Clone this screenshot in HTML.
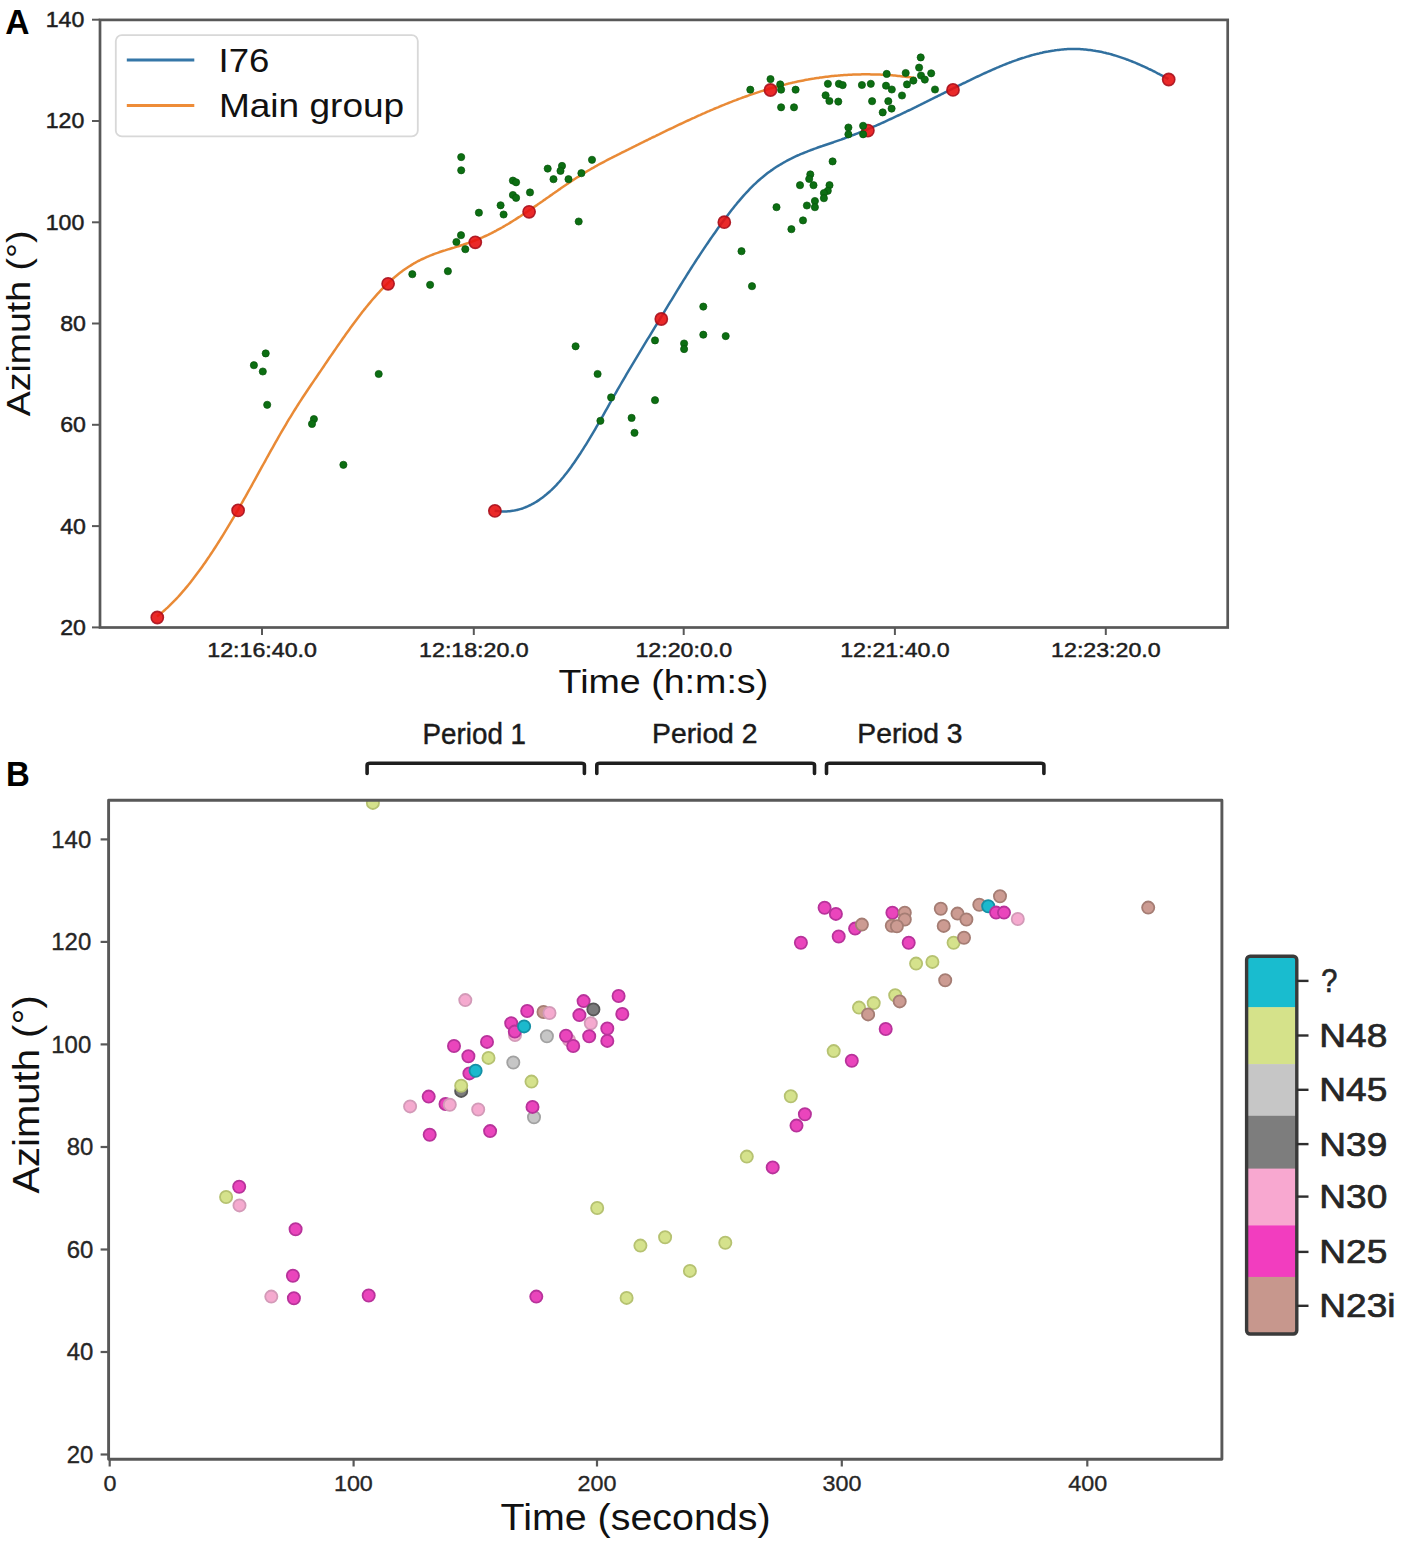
<!DOCTYPE html><html><head><meta charset="utf-8"><style>html,body{margin:0;padding:0;background:#fff;}svg{display:block;}text{font-family:"Liberation Sans",sans-serif;}</style></head><body>
<svg width="1417" height="1551" viewBox="0 0 1417 1551">
<rect width="1417" height="1551" fill="#fff"/>
<defs><clipPath id="ca"><rect x="99.7" y="19.7" width="1128" height="607.7"/></clipPath><clipPath id="cb"><rect x="108.6" y="800" width="1113.2" height="659.2"/></clipPath></defs>
<text x="5.26" y="34.00" font-size="34.91" font-weight="bold" fill="#000" textLength="24.25" lengthAdjust="spacingAndGlyphs">A</text>
<g clip-path="url(#ca)">
<path d="M157.0,616.4 L158.5,615.3 L160.0,614.1 L161.5,612.9 L163.0,611.6 L164.5,610.3 L166.0,608.9 L167.5,607.6 L169.0,606.2 L170.5,604.7 L172.0,603.2 L173.5,601.7 L175.0,600.2 L176.5,598.6 L178.0,597.0 L179.5,595.3 L181.0,593.6 L182.5,591.9 L184.0,590.2 L185.5,588.4 L187.0,586.6 L188.5,584.8 L190.0,582.9 L191.5,581.0 L193.0,579.1 L194.5,577.1 L196.0,575.1 L197.5,573.1 L199.0,571.1 L200.5,569.0 L202.0,566.9 L203.5,564.8 L205.0,562.7 L206.5,560.5 L208.0,558.3 L209.5,556.1 L211.0,553.8 L212.5,551.6 L214.0,549.3 L215.5,547.0 L217.0,544.6 L218.5,542.3 L220.0,539.9 L221.5,537.5 L223.0,535.1 L224.5,532.6 L226.0,530.2 L227.5,527.7 L229.0,525.2 L230.5,522.7 L232.0,520.1 L233.5,517.6 L235.0,515.0 L236.5,512.4 L238.0,509.8 L239.5,507.2 L241.0,504.5 L242.5,501.9 L244.0,499.2 L245.5,496.6 L247.0,493.9 L248.5,491.2 L250.0,488.5 L251.5,485.8 L253.0,483.0 L254.5,480.3 L256.0,477.6 L257.5,474.9 L259.0,472.1 L260.5,469.4 L262.0,466.7 L263.5,464.0 L265.0,461.3 L266.5,458.5 L268.0,455.8 L269.5,453.1 L271.0,450.4 L272.5,447.8 L274.0,445.1 L275.5,442.4 L277.0,439.8 L278.5,437.2 L280.0,434.5 L281.5,431.9 L283.0,429.4 L284.5,426.8 L286.0,424.3 L287.5,421.7 L289.0,419.2 L290.5,416.8 L292.0,414.3 L293.5,411.9 L295.0,409.5 L296.5,407.1 L298.0,404.8 L299.5,402.4 L301.0,400.1 L302.5,397.8 L304.0,395.5 L305.5,393.3 L307.0,391.0 L308.5,388.8 L310.0,386.5 L311.5,384.3 L313.0,382.1 L314.5,379.9 L316.0,377.7 L317.5,375.5 L319.0,373.3 L320.5,371.1 L322.0,368.9 L323.5,366.7 L325.0,364.4 L326.5,362.2 L328.0,360.0 L329.5,357.8 L331.0,355.6 L332.5,353.5 L334.0,351.3 L335.5,349.1 L337.0,346.9 L338.5,344.8 L340.0,342.6 L341.5,340.5 L343.0,338.3 L344.5,336.2 L346.0,334.1 L347.5,332.0 L349.0,329.9 L350.5,327.8 L352.0,325.8 L353.5,323.7 L355.0,321.7 L356.5,319.7 L358.0,317.7 L359.5,315.7 L361.0,313.8 L362.5,311.8 L364.0,309.9 L365.5,308.1 L367.0,306.2 L368.5,304.4 L370.0,302.6 L371.5,300.8 L373.0,299.0 L374.5,297.3 L376.0,295.6 L377.5,293.9 L379.0,292.3 L380.5,290.7 L382.0,289.1 L383.5,287.5 L385.0,286.0 L386.5,284.6 L388.0,283.1 L389.5,281.7 L391.0,280.3 L392.5,279.0 L394.0,277.7 L395.5,276.4 L397.0,275.2 L398.5,274.0 L400.0,272.8 L401.5,271.7 L403.0,270.6 L404.5,269.5 L406.0,268.5 L407.5,267.5 L409.0,266.5 L410.5,265.6 L412.0,264.6 L413.5,263.7 L415.0,262.9 L416.5,262.0 L418.0,261.2 L419.5,260.5 L421.0,259.7 L422.5,259.0 L424.0,258.3 L425.5,257.6 L427.0,256.9 L428.5,256.3 L430.0,255.7 L431.5,255.1 L433.0,254.5 L434.5,253.9 L436.0,253.4 L437.5,252.9 L439.0,252.3 L440.5,251.8 L442.0,251.3 L443.5,250.8 L445.0,250.4 L446.5,249.9 L448.0,249.4 L449.5,249.0 L451.0,248.5 L452.5,248.0 L454.0,247.6 L455.5,247.1 L457.0,246.6 L458.5,246.2 L460.0,245.7 L461.5,245.2 L463.0,244.8 L464.5,244.3 L466.0,243.8 L467.5,243.3 L469.0,242.7 L470.5,242.2 L472.0,241.7 L473.5,241.1 L475.0,240.5 L476.5,239.9 L478.0,239.3 L479.5,238.7 L481.0,238.0 L482.5,237.4 L484.0,236.7 L485.5,236.0 L487.0,235.3 L488.5,234.6 L490.0,233.8 L491.5,233.1 L493.0,232.3 L494.5,231.5 L496.0,230.8 L497.5,229.9 L499.0,229.1 L500.5,228.3 L502.0,227.5 L503.5,226.6 L505.0,225.7 L506.5,224.8 L508.0,224.0 L509.5,223.1 L511.0,222.1 L512.5,221.2 L514.0,220.3 L515.5,219.4 L517.0,218.4 L518.5,217.4 L520.0,216.5 L521.5,215.5 L523.0,214.5 L524.5,213.5 L526.0,212.5 L527.5,211.5 L529.0,210.5 L530.5,209.5 L532.0,208.5 L533.5,207.4 L535.0,206.4 L536.5,205.4 L538.0,204.3 L539.5,203.3 L541.0,202.2 L542.5,201.2 L544.0,200.1 L545.5,199.1 L547.0,198.0 L548.5,197.0 L550.0,195.9 L551.5,194.9 L553.0,193.8 L554.5,192.8 L556.0,191.7 L557.5,190.7 L559.0,189.6 L560.5,188.6 L562.0,187.5 L563.5,186.5 L565.0,185.5 L566.5,184.5 L568.0,183.5 L569.5,182.4 L571.0,181.4 L572.5,180.5 L574.0,179.5 L575.5,178.5 L577.0,177.5 L578.5,176.6 L580.0,175.6 L581.5,174.7 L583.0,173.8 L584.5,172.8 L586.0,171.9 L587.5,171.0 L589.0,170.2 L590.5,169.3 L592.0,168.4 L593.5,167.6 L595.0,166.7 L596.5,165.9 L598.0,165.0 L599.5,164.2 L601.0,163.4 L602.5,162.6 L604.0,161.8 L605.5,161.0 L607.0,160.2 L608.5,159.4 L610.0,158.6 L611.5,157.9 L613.0,157.1 L614.5,156.3 L616.0,155.6 L617.5,154.8 L619.0,154.1 L620.5,153.3 L622.0,152.5 L623.5,151.8 L625.0,151.1 L626.5,150.3 L628.0,149.6 L629.5,148.8 L631.0,148.1 L632.5,147.3 L634.0,146.6 L635.5,145.9 L637.0,145.1 L638.5,144.4 L640.0,143.6 L641.5,142.9 L643.0,142.2 L644.5,141.4 L646.0,140.7 L647.5,140.0 L649.0,139.2 L650.5,138.5 L652.0,137.7 L653.5,137.0 L655.0,136.3 L656.5,135.5 L658.0,134.8 L659.5,134.1 L661.0,133.3 L662.5,132.6 L664.0,131.9 L665.5,131.2 L667.0,130.4 L668.5,129.7 L670.0,129.0 L671.5,128.3 L673.0,127.6 L674.5,126.8 L676.0,126.1 L677.5,125.4 L679.0,124.7 L680.5,124.0 L682.0,123.3 L683.5,122.6 L685.0,121.9 L686.5,121.2 L688.0,120.5 L689.5,119.8 L691.0,119.1 L692.5,118.4 L694.0,117.8 L695.5,117.1 L697.0,116.4 L698.5,115.7 L700.0,115.1 L701.5,114.4 L703.0,113.7 L704.5,113.1 L706.0,112.4 L707.5,111.7 L709.0,111.1 L710.5,110.4 L712.0,109.8 L713.5,109.2 L715.0,108.5 L716.5,107.9 L718.0,107.3 L719.5,106.6 L721.0,106.0 L722.5,105.4 L724.0,104.8 L725.5,104.2 L727.0,103.6 L728.5,103.0 L730.0,102.4 L731.5,101.8 L733.0,101.2 L734.5,100.6 L736.0,100.1 L737.5,99.5 L739.0,98.9 L740.5,98.4 L742.0,97.8 L743.5,97.3 L745.0,96.7 L746.5,96.2 L748.0,95.7 L749.5,95.1 L751.0,94.6 L752.5,94.1 L754.0,93.6 L755.5,93.1 L757.0,92.6 L758.5,92.1 L760.0,91.6 L761.5,91.1 L763.0,90.7 L764.5,90.2 L766.0,89.7 L767.5,89.3 L769.0,88.8 L770.5,88.4 L772.0,88.0 L773.5,87.5 L775.0,87.1 L776.5,86.7 L778.0,86.3 L779.5,85.9 L781.0,85.5 L782.5,85.1 L784.0,84.7 L785.5,84.4 L787.0,84.0 L788.5,83.6 L790.0,83.3 L791.5,82.9 L793.0,82.6 L794.5,82.3 L796.0,81.9 L797.5,81.6 L799.0,81.3 L800.5,81.0 L802.0,80.7 L803.5,80.4 L805.0,80.1 L806.5,79.8 L808.0,79.6 L809.5,79.3 L811.0,79.0 L812.5,78.8 L814.0,78.6 L815.5,78.3 L817.0,78.1 L818.5,77.9 L820.0,77.6 L821.5,77.4 L823.0,77.2 L824.5,77.0 L826.0,76.8 L827.5,76.7 L829.0,76.5 L830.5,76.3 L832.0,76.1 L833.5,76.0 L835.0,75.8 L836.5,75.7 L838.0,75.6 L839.5,75.4 L841.0,75.3 L842.5,75.2 L844.0,75.1 L845.5,75.0 L847.0,74.9 L848.5,74.8 L850.0,74.7 L851.5,74.7 L853.0,74.6 L854.5,74.5 L856.0,74.5 L857.5,74.4 L859.0,74.4 L860.5,74.4 L862.0,74.3 L863.5,74.3 L865.0,74.3 L866.5,74.3 L868.0,74.3 L869.5,74.3 L871.0,74.4 L872.5,74.4 L874.0,74.4 L875.5,74.4 L877.0,74.5 L878.5,74.5 L880.0,74.6 L881.5,74.7 L883.0,74.7 L884.5,74.8 L886.0,74.9 L887.5,75.0 L889.0,75.1 L890.5,75.2 L892.0,75.3 L893.5,75.5 L895.0,75.6 L896.5,75.7 L898.0,75.9 L899.5,76.0 L901.0,76.2 L902.5,76.4 L904.0,76.5 L905.5,76.7 L907.0,76.9 L908.5,77.1 L910.0,77.3 L911.5,77.5 L913.0,77.7 L914.5,77.9 L915.8,78.1" fill="none" stroke="#e98a36" stroke-width="2.5" stroke-linejoin="round"/>
<path d="M494.6,510.7 L496.1,510.9 L497.6,511.1 L499.1,511.3 L500.6,511.4 L502.1,511.4 L503.6,511.5 L505.1,511.5 L506.6,511.4 L508.1,511.3 L509.6,511.2 L511.1,511.0 L512.6,510.8 L514.1,510.6 L515.6,510.3 L517.1,509.9 L518.6,509.6 L520.1,509.1 L521.6,508.7 L523.1,508.2 L524.6,507.6 L526.1,507.0 L527.6,506.4 L529.1,505.7 L530.6,505.0 L532.1,504.2 L533.6,503.4 L535.1,502.5 L536.6,501.6 L538.1,500.6 L539.6,499.6 L541.1,498.5 L542.6,497.4 L544.1,496.3 L545.6,495.1 L547.1,493.8 L548.6,492.5 L550.1,491.2 L551.6,489.8 L553.1,488.3 L554.6,486.8 L556.1,485.3 L557.6,483.6 L559.1,482.0 L560.6,480.3 L562.1,478.5 L563.6,476.7 L565.1,474.8 L566.6,472.9 L568.1,471.0 L569.6,468.9 L571.1,466.9 L572.6,464.8 L574.1,462.7 L575.6,460.5 L577.1,458.3 L578.6,456.0 L580.1,453.8 L581.6,451.4 L583.1,449.1 L584.6,446.7 L586.1,444.3 L587.6,441.9 L589.1,439.4 L590.6,436.9 L592.1,434.4 L593.6,431.9 L595.1,429.3 L596.6,426.7 L598.1,424.1 L599.6,421.5 L601.1,418.9 L602.6,416.3 L604.1,413.6 L605.6,410.9 L607.1,408.3 L608.6,405.6 L610.1,402.9 L611.6,400.3 L613.1,397.6 L614.6,395.0 L616.1,392.3 L617.6,389.7 L619.1,387.1 L620.6,384.5 L622.1,381.9 L623.6,379.3 L625.1,376.8 L626.6,374.2 L628.1,371.7 L629.6,369.1 L631.1,366.6 L632.6,364.1 L634.1,361.6 L635.6,359.1 L637.1,356.6 L638.6,354.1 L640.1,351.6 L641.6,349.1 L643.1,346.6 L644.6,344.2 L646.1,341.7 L647.6,339.2 L649.1,336.8 L650.6,334.3 L652.1,331.9 L653.6,329.4 L655.1,326.9 L656.6,324.5 L658.1,322.0 L659.6,319.6 L661.1,317.1 L662.6,314.6 L664.1,312.1 L665.6,309.7 L667.1,307.2 L668.6,304.7 L670.1,302.2 L671.6,299.8 L673.1,297.3 L674.6,294.8 L676.1,292.4 L677.6,289.9 L679.1,287.5 L680.6,285.0 L682.1,282.6 L683.6,280.2 L685.1,277.8 L686.6,275.4 L688.1,273.0 L689.6,270.6 L691.1,268.3 L692.6,265.9 L694.1,263.6 L695.6,261.3 L697.1,258.9 L698.6,256.7 L700.1,254.4 L701.6,252.1 L703.1,249.9 L704.6,247.6 L706.1,245.4 L707.6,243.2 L709.1,241.0 L710.6,238.8 L712.1,236.6 L713.6,234.5 L715.1,232.4 L716.6,230.2 L718.1,228.1 L719.6,226.1 L721.1,224.0 L722.6,221.9 L724.1,219.9 L725.6,217.9 L727.1,215.9 L728.6,213.9 L730.1,212.0 L731.6,210.1 L733.1,208.2 L734.6,206.3 L736.1,204.5 L737.6,202.6 L739.1,200.9 L740.6,199.1 L742.1,197.4 L743.6,195.7 L745.1,194.0 L746.6,192.4 L748.1,190.8 L749.6,189.2 L751.1,187.7 L752.6,186.2 L754.1,184.7 L755.6,183.3 L757.1,181.9 L758.6,180.5 L760.1,179.2 L761.6,177.9 L763.1,176.7 L764.6,175.5 L766.1,174.3 L767.6,173.1 L769.1,172.0 L770.6,170.9 L772.1,169.9 L773.6,168.8 L775.1,167.8 L776.6,166.8 L778.1,165.9 L779.6,165.0 L781.1,164.1 L782.6,163.2 L784.1,162.3 L785.6,161.5 L787.1,160.7 L788.6,159.9 L790.1,159.1 L791.6,158.4 L793.1,157.6 L794.6,156.9 L796.1,156.2 L797.6,155.5 L799.1,154.9 L800.6,154.2 L802.1,153.6 L803.6,153.0 L805.1,152.4 L806.6,151.8 L808.1,151.2 L809.6,150.6 L811.1,150.0 L812.6,149.5 L814.1,148.9 L815.6,148.4 L817.1,147.8 L818.6,147.3 L820.1,146.8 L821.6,146.3 L823.1,145.7 L824.6,145.2 L826.1,144.7 L827.6,144.2 L829.1,143.7 L830.6,143.2 L832.1,142.7 L833.6,142.2 L835.1,141.6 L836.6,141.1 L838.1,140.6 L839.6,140.1 L841.1,139.6 L842.6,139.0 L844.1,138.5 L845.6,137.9 L847.1,137.4 L848.6,136.8 L850.1,136.2 L851.6,135.7 L853.1,135.1 L854.6,134.5 L856.1,133.9 L857.6,133.3 L859.1,132.7 L860.6,132.1 L862.1,131.5 L863.6,130.9 L865.1,130.3 L866.6,129.6 L868.1,129.0 L869.6,128.4 L871.1,127.7 L872.6,127.1 L874.1,126.4 L875.6,125.8 L877.1,125.1 L878.6,124.5 L880.1,123.8 L881.6,123.1 L883.1,122.5 L884.6,121.8 L886.1,121.1 L887.6,120.4 L889.1,119.7 L890.6,119.0 L892.1,118.3 L893.6,117.6 L895.1,116.9 L896.6,116.2 L898.1,115.5 L899.6,114.8 L901.1,114.1 L902.6,113.4 L904.1,112.7 L905.6,112.0 L907.1,111.2 L908.6,110.5 L910.1,109.8 L911.6,109.1 L913.1,108.3 L914.6,107.6 L916.1,106.9 L917.6,106.1 L919.1,105.4 L920.6,104.7 L922.1,103.9 L923.6,103.2 L925.1,102.4 L926.6,101.7 L928.1,100.9 L929.6,100.2 L931.1,99.4 L932.6,98.7 L934.1,97.9 L935.6,97.2 L937.1,96.5 L938.6,95.7 L940.1,95.0 L941.6,94.2 L943.1,93.5 L944.6,92.7 L946.1,92.0 L947.6,91.2 L949.1,90.5 L950.6,89.7 L952.1,89.0 L953.6,88.2 L955.1,87.5 L956.6,86.7 L958.1,86.0 L959.6,85.2 L961.1,84.5 L962.6,83.7 L964.1,83.0 L965.6,82.3 L967.1,81.5 L968.6,80.8 L970.1,80.1 L971.6,79.3 L973.1,78.6 L974.6,77.9 L976.1,77.2 L977.6,76.5 L979.1,75.8 L980.6,75.1 L982.1,74.4 L983.6,73.7 L985.1,73.0 L986.6,72.3 L988.1,71.6 L989.6,71.0 L991.1,70.3 L992.6,69.6 L994.1,69.0 L995.6,68.3 L997.1,67.7 L998.6,67.1 L1000.1,66.4 L1001.6,65.8 L1003.1,65.2 L1004.6,64.6 L1006.1,64.0 L1007.6,63.4 L1009.1,62.8 L1010.6,62.3 L1012.1,61.7 L1013.6,61.1 L1015.1,60.6 L1016.6,60.1 L1018.1,59.5 L1019.6,59.0 L1021.1,58.5 L1022.6,58.0 L1024.1,57.6 L1025.6,57.1 L1027.1,56.6 L1028.6,56.2 L1030.1,55.7 L1031.6,55.3 L1033.1,54.9 L1034.6,54.5 L1036.1,54.1 L1037.6,53.7 L1039.1,53.4 L1040.6,53.0 L1042.1,52.7 L1043.6,52.3 L1045.1,52.0 L1046.6,51.7 L1048.1,51.5 L1049.6,51.2 L1051.1,50.9 L1052.6,50.7 L1054.1,50.5 L1055.6,50.2 L1057.1,50.1 L1058.6,49.9 L1060.1,49.7 L1061.6,49.6 L1063.1,49.4 L1064.6,49.3 L1066.1,49.2 L1067.6,49.1 L1069.1,49.1 L1070.6,49.0 L1072.1,49.0 L1073.6,49.0 L1075.1,49.0 L1076.6,49.0 L1078.1,49.1 L1079.6,49.1 L1081.1,49.2 L1082.6,49.3 L1084.1,49.4 L1085.6,49.5 L1087.1,49.7 L1088.6,49.9 L1090.1,50.0 L1091.6,50.2 L1093.1,50.5 L1094.6,50.7 L1096.1,51.0 L1097.6,51.2 L1099.1,51.5 L1100.6,51.8 L1102.1,52.1 L1103.6,52.5 L1105.1,52.8 L1106.6,53.2 L1108.1,53.5 L1109.6,53.9 L1111.1,54.3 L1112.6,54.8 L1114.1,55.2 L1115.6,55.6 L1117.1,56.1 L1118.6,56.6 L1120.1,57.1 L1121.6,57.6 L1123.1,58.1 L1124.6,58.6 L1126.1,59.2 L1127.6,59.7 L1129.1,60.3 L1130.6,60.9 L1132.1,61.5 L1133.6,62.1 L1135.1,62.7 L1136.6,63.3 L1138.1,64.0 L1139.6,64.6 L1141.1,65.3 L1142.6,66.0 L1144.1,66.6 L1145.6,67.3 L1147.1,68.0 L1148.6,68.8 L1150.1,69.5 L1151.6,70.2 L1153.1,71.0 L1154.6,71.7 L1156.1,72.5 L1157.6,73.3 L1159.1,74.0 L1160.6,74.8 L1162.1,75.6 L1163.6,76.4 L1165.1,77.3 L1166.6,78.1 L1168.1,78.9 L1168.4,79.1" fill="none" stroke="#31709f" stroke-width="2.5" stroke-linejoin="round"/>
<circle cx="157.3" cy="617.5" r="6.1" fill="#e81212" fill-opacity="0.9" stroke="#a8101c" stroke-opacity="0.9" stroke-width="1.6"/>
<circle cx="238.1" cy="510.4" r="6.1" fill="#e81212" fill-opacity="0.9" stroke="#a8101c" stroke-opacity="0.9" stroke-width="1.6"/>
<circle cx="388.1" cy="283.8" r="6.1" fill="#e81212" fill-opacity="0.9" stroke="#a8101c" stroke-opacity="0.9" stroke-width="1.6"/>
<circle cx="475.3" cy="242.3" r="6.1" fill="#e81212" fill-opacity="0.9" stroke="#a8101c" stroke-opacity="0.9" stroke-width="1.6"/>
<circle cx="529.1" cy="211.8" r="6.1" fill="#e81212" fill-opacity="0.9" stroke="#a8101c" stroke-opacity="0.9" stroke-width="1.6"/>
<circle cx="770.5" cy="90.0" r="6.1" fill="#e81212" fill-opacity="0.9" stroke="#a8101c" stroke-opacity="0.9" stroke-width="1.6"/>
<circle cx="494.9" cy="510.9" r="6.1" fill="#e81212" fill-opacity="0.9" stroke="#a8101c" stroke-opacity="0.9" stroke-width="1.6"/>
<circle cx="661.3" cy="319.0" r="6.1" fill="#e81212" fill-opacity="0.9" stroke="#a8101c" stroke-opacity="0.9" stroke-width="1.6"/>
<circle cx="724.3" cy="222.2" r="6.1" fill="#e81212" fill-opacity="0.9" stroke="#a8101c" stroke-opacity="0.9" stroke-width="1.6"/>
<circle cx="867.9" cy="130.6" r="6.1" fill="#e81212" fill-opacity="0.9" stroke="#a8101c" stroke-opacity="0.9" stroke-width="1.6"/>
<circle cx="953.0" cy="89.9" r="6.1" fill="#e81212" fill-opacity="0.9" stroke="#a8101c" stroke-opacity="0.9" stroke-width="1.6"/>
<circle cx="1168.7" cy="79.5" r="6.1" fill="#e81212" fill-opacity="0.9" stroke="#a8101c" stroke-opacity="0.9" stroke-width="1.6"/>
<circle cx="265.7" cy="353.4" r="3.6" fill="#0c6e12" stroke="#07550b" stroke-width="0.7"/>
<circle cx="253.9" cy="365.2" r="3.6" fill="#0c6e12" stroke="#07550b" stroke-width="0.7"/>
<circle cx="262.8" cy="371.5" r="3.6" fill="#0c6e12" stroke="#07550b" stroke-width="0.7"/>
<circle cx="267.2" cy="404.8" r="3.6" fill="#0c6e12" stroke="#07550b" stroke-width="0.7"/>
<circle cx="313.9" cy="419.1" r="3.6" fill="#0c6e12" stroke="#07550b" stroke-width="0.7"/>
<circle cx="312.0" cy="423.9" r="3.6" fill="#0c6e12" stroke="#07550b" stroke-width="0.7"/>
<circle cx="343.4" cy="464.8" r="3.6" fill="#0c6e12" stroke="#07550b" stroke-width="0.7"/>
<circle cx="378.7" cy="374.0" r="3.6" fill="#0c6e12" stroke="#07550b" stroke-width="0.7"/>
<circle cx="461.2" cy="157.1" r="3.6" fill="#0c6e12" stroke="#07550b" stroke-width="0.7"/>
<circle cx="461.2" cy="170.3" r="3.6" fill="#0c6e12" stroke="#07550b" stroke-width="0.7"/>
<circle cx="478.9" cy="212.7" r="3.6" fill="#0c6e12" stroke="#07550b" stroke-width="0.7"/>
<circle cx="500.6" cy="205.3" r="3.6" fill="#0c6e12" stroke="#07550b" stroke-width="0.7"/>
<circle cx="503.6" cy="214.5" r="3.6" fill="#0c6e12" stroke="#07550b" stroke-width="0.7"/>
<circle cx="512.9" cy="180.6" r="3.6" fill="#0c6e12" stroke="#07550b" stroke-width="0.7"/>
<circle cx="516.1" cy="182.3" r="3.6" fill="#0c6e12" stroke="#07550b" stroke-width="0.7"/>
<circle cx="512.9" cy="195.0" r="3.6" fill="#0c6e12" stroke="#07550b" stroke-width="0.7"/>
<circle cx="516.1" cy="197.9" r="3.6" fill="#0c6e12" stroke="#07550b" stroke-width="0.7"/>
<circle cx="530.0" cy="192.4" r="3.6" fill="#0c6e12" stroke="#07550b" stroke-width="0.7"/>
<circle cx="547.7" cy="168.6" r="3.6" fill="#0c6e12" stroke="#07550b" stroke-width="0.7"/>
<circle cx="562.0" cy="165.9" r="3.6" fill="#0c6e12" stroke="#07550b" stroke-width="0.7"/>
<circle cx="560.5" cy="170.9" r="3.6" fill="#0c6e12" stroke="#07550b" stroke-width="0.7"/>
<circle cx="553.5" cy="179.2" r="3.6" fill="#0c6e12" stroke="#07550b" stroke-width="0.7"/>
<circle cx="568.5" cy="179.2" r="3.6" fill="#0c6e12" stroke="#07550b" stroke-width="0.7"/>
<circle cx="581.4" cy="173.2" r="3.6" fill="#0c6e12" stroke="#07550b" stroke-width="0.7"/>
<circle cx="592.0" cy="159.8" r="3.6" fill="#0c6e12" stroke="#07550b" stroke-width="0.7"/>
<circle cx="578.7" cy="221.5" r="3.6" fill="#0c6e12" stroke="#07550b" stroke-width="0.7"/>
<circle cx="461.0" cy="235.2" r="3.6" fill="#0c6e12" stroke="#07550b" stroke-width="0.7"/>
<circle cx="456.4" cy="242.0" r="3.6" fill="#0c6e12" stroke="#07550b" stroke-width="0.7"/>
<circle cx="465.3" cy="249.2" r="3.6" fill="#0c6e12" stroke="#07550b" stroke-width="0.7"/>
<circle cx="412.3" cy="274.2" r="3.6" fill="#0c6e12" stroke="#07550b" stroke-width="0.7"/>
<circle cx="430.1" cy="284.8" r="3.6" fill="#0c6e12" stroke="#07550b" stroke-width="0.7"/>
<circle cx="447.9" cy="271.2" r="3.6" fill="#0c6e12" stroke="#07550b" stroke-width="0.7"/>
<circle cx="750.3" cy="89.7" r="3.6" fill="#0c6e12" stroke="#07550b" stroke-width="0.7"/>
<circle cx="770.5" cy="79.1" r="3.6" fill="#0c6e12" stroke="#07550b" stroke-width="0.7"/>
<circle cx="780.2" cy="84.4" r="3.6" fill="#0c6e12" stroke="#07550b" stroke-width="0.7"/>
<circle cx="781.1" cy="89.7" r="3.6" fill="#0c6e12" stroke="#07550b" stroke-width="0.7"/>
<circle cx="795.6" cy="89.7" r="3.6" fill="#0c6e12" stroke="#07550b" stroke-width="0.7"/>
<circle cx="781.1" cy="107.3" r="3.6" fill="#0c6e12" stroke="#07550b" stroke-width="0.7"/>
<circle cx="794.0" cy="107.3" r="3.6" fill="#0c6e12" stroke="#07550b" stroke-width="0.7"/>
<circle cx="827.9" cy="83.8" r="3.6" fill="#0c6e12" stroke="#07550b" stroke-width="0.7"/>
<circle cx="838.9" cy="83.8" r="3.6" fill="#0c6e12" stroke="#07550b" stroke-width="0.7"/>
<circle cx="842.7" cy="85.1" r="3.6" fill="#0c6e12" stroke="#07550b" stroke-width="0.7"/>
<circle cx="825.6" cy="95.3" r="3.6" fill="#0c6e12" stroke="#07550b" stroke-width="0.7"/>
<circle cx="829.4" cy="101.0" r="3.6" fill="#0c6e12" stroke="#07550b" stroke-width="0.7"/>
<circle cx="838.3" cy="101.6" r="3.6" fill="#0c6e12" stroke="#07550b" stroke-width="0.7"/>
<circle cx="861.9" cy="85.0" r="3.6" fill="#0c6e12" stroke="#07550b" stroke-width="0.7"/>
<circle cx="870.8" cy="83.8" r="3.6" fill="#0c6e12" stroke="#07550b" stroke-width="0.7"/>
<circle cx="872.1" cy="101.2" r="3.6" fill="#0c6e12" stroke="#07550b" stroke-width="0.7"/>
<circle cx="886.7" cy="73.9" r="3.6" fill="#0c6e12" stroke="#07550b" stroke-width="0.7"/>
<circle cx="886.0" cy="85.7" r="3.6" fill="#0c6e12" stroke="#07550b" stroke-width="0.7"/>
<circle cx="891.8" cy="89.5" r="3.6" fill="#0c6e12" stroke="#07550b" stroke-width="0.7"/>
<circle cx="888.3" cy="101.2" r="3.6" fill="#0c6e12" stroke="#07550b" stroke-width="0.7"/>
<circle cx="891.6" cy="108.6" r="3.6" fill="#0c6e12" stroke="#07550b" stroke-width="0.7"/>
<circle cx="882.7" cy="112.4" r="3.6" fill="#0c6e12" stroke="#07550b" stroke-width="0.7"/>
<circle cx="902.0" cy="95.5" r="3.6" fill="#0c6e12" stroke="#07550b" stroke-width="0.7"/>
<circle cx="905.7" cy="73.0" r="3.6" fill="#0c6e12" stroke="#07550b" stroke-width="0.7"/>
<circle cx="907.0" cy="84.4" r="3.6" fill="#0c6e12" stroke="#07550b" stroke-width="0.7"/>
<circle cx="913.4" cy="80.6" r="3.6" fill="#0c6e12" stroke="#07550b" stroke-width="0.7"/>
<circle cx="920.7" cy="57.4" r="3.6" fill="#0c6e12" stroke="#07550b" stroke-width="0.7"/>
<circle cx="919.1" cy="67.6" r="3.6" fill="#0c6e12" stroke="#07550b" stroke-width="0.7"/>
<circle cx="921.0" cy="75.5" r="3.6" fill="#0c6e12" stroke="#07550b" stroke-width="0.7"/>
<circle cx="924.8" cy="79.6" r="3.6" fill="#0c6e12" stroke="#07550b" stroke-width="0.7"/>
<circle cx="931.2" cy="73.3" r="3.6" fill="#0c6e12" stroke="#07550b" stroke-width="0.7"/>
<circle cx="935.0" cy="89.5" r="3.6" fill="#0c6e12" stroke="#07550b" stroke-width="0.7"/>
<circle cx="848.4" cy="127.5" r="3.6" fill="#0c6e12" stroke="#07550b" stroke-width="0.7"/>
<circle cx="848.4" cy="134.3" r="3.6" fill="#0c6e12" stroke="#07550b" stroke-width="0.7"/>
<circle cx="863.1" cy="125.8" r="3.6" fill="#0c6e12" stroke="#07550b" stroke-width="0.7"/>
<circle cx="863.1" cy="134.3" r="3.6" fill="#0c6e12" stroke="#07550b" stroke-width="0.7"/>
<circle cx="832.6" cy="161.4" r="3.6" fill="#0c6e12" stroke="#07550b" stroke-width="0.7"/>
<circle cx="810.3" cy="174.4" r="3.6" fill="#0c6e12" stroke="#07550b" stroke-width="0.7"/>
<circle cx="809.2" cy="179.0" r="3.6" fill="#0c6e12" stroke="#07550b" stroke-width="0.7"/>
<circle cx="813.5" cy="185.2" r="3.6" fill="#0c6e12" stroke="#07550b" stroke-width="0.7"/>
<circle cx="800.0" cy="185.2" r="3.6" fill="#0c6e12" stroke="#07550b" stroke-width="0.7"/>
<circle cx="829.5" cy="185.2" r="3.6" fill="#0c6e12" stroke="#07550b" stroke-width="0.7"/>
<circle cx="827.8" cy="190.8" r="3.6" fill="#0c6e12" stroke="#07550b" stroke-width="0.7"/>
<circle cx="823.9" cy="193.1" r="3.6" fill="#0c6e12" stroke="#07550b" stroke-width="0.7"/>
<circle cx="823.9" cy="198.2" r="3.6" fill="#0c6e12" stroke="#07550b" stroke-width="0.7"/>
<circle cx="814.9" cy="201.0" r="3.6" fill="#0c6e12" stroke="#07550b" stroke-width="0.7"/>
<circle cx="806.9" cy="205.5" r="3.6" fill="#0c6e12" stroke="#07550b" stroke-width="0.7"/>
<circle cx="814.9" cy="207.2" r="3.6" fill="#0c6e12" stroke="#07550b" stroke-width="0.7"/>
<circle cx="776.5" cy="207.2" r="3.6" fill="#0c6e12" stroke="#07550b" stroke-width="0.7"/>
<circle cx="803.0" cy="220.4" r="3.6" fill="#0c6e12" stroke="#07550b" stroke-width="0.7"/>
<circle cx="791.4" cy="229.2" r="3.6" fill="#0c6e12" stroke="#07550b" stroke-width="0.7"/>
<circle cx="741.5" cy="251.2" r="3.6" fill="#0c6e12" stroke="#07550b" stroke-width="0.7"/>
<circle cx="752.0" cy="286.2" r="3.6" fill="#0c6e12" stroke="#07550b" stroke-width="0.7"/>
<circle cx="703.3" cy="306.6" r="3.6" fill="#0c6e12" stroke="#07550b" stroke-width="0.7"/>
<circle cx="703.3" cy="334.7" r="3.6" fill="#0c6e12" stroke="#07550b" stroke-width="0.7"/>
<circle cx="725.7" cy="336.1" r="3.6" fill="#0c6e12" stroke="#07550b" stroke-width="0.7"/>
<circle cx="655.0" cy="340.4" r="3.6" fill="#0c6e12" stroke="#07550b" stroke-width="0.7"/>
<circle cx="684.1" cy="343.5" r="3.6" fill="#0c6e12" stroke="#07550b" stroke-width="0.7"/>
<circle cx="684.1" cy="349.1" r="3.6" fill="#0c6e12" stroke="#07550b" stroke-width="0.7"/>
<circle cx="575.6" cy="346.3" r="3.6" fill="#0c6e12" stroke="#07550b" stroke-width="0.7"/>
<circle cx="597.6" cy="374.0" r="3.6" fill="#0c6e12" stroke="#07550b" stroke-width="0.7"/>
<circle cx="611.1" cy="397.4" r="3.6" fill="#0c6e12" stroke="#07550b" stroke-width="0.7"/>
<circle cx="655.0" cy="400.2" r="3.6" fill="#0c6e12" stroke="#07550b" stroke-width="0.7"/>
<circle cx="600.4" cy="420.8" r="3.6" fill="#0c6e12" stroke="#07550b" stroke-width="0.7"/>
<circle cx="631.6" cy="417.9" r="3.6" fill="#0c6e12" stroke="#07550b" stroke-width="0.7"/>
<circle cx="634.5" cy="432.8" r="3.6" fill="#0c6e12" stroke="#07550b" stroke-width="0.7"/>
</g>
<rect x="115.8" y="35.1" width="302" height="101.3" rx="6" fill="#fff" fill-opacity="0.85" stroke="#d8d8d8" stroke-width="1.8"/>
<line x1="126.8" y1="60" x2="194.3" y2="60" stroke="#3577a8" stroke-width="3"/>
<line x1="126.8" y1="105.5" x2="194.3" y2="105.5" stroke="#ee8c38" stroke-width="3"/>
<text x="218.62" y="71.60" font-size="33.12" fill="#111" textLength="50.84" lengthAdjust="spacingAndGlyphs">I76</text>
<text x="218.95" y="116.90" font-size="32.40" fill="#111" textLength="185.26" lengthAdjust="spacingAndGlyphs">Main group</text>
<rect x="100" y="19.9" width="1127.7" height="607.6" fill="none" stroke="#585858" stroke-width="2.7"/>
<line x1="92" y1="627.4" x2="99.7" y2="627.4" stroke="#585858" stroke-width="2"/>
<text x="60.21" y="634.83" font-size="22.22" stroke="#1e1e1e" stroke-width="0.50" fill="#1e1e1e" textLength="25.71" lengthAdjust="spacingAndGlyphs">20</text>
<line x1="92" y1="526.1" x2="99.7" y2="526.1" stroke="#585858" stroke-width="2"/>
<text x="60.21" y="533.55" font-size="22.22" stroke="#1e1e1e" stroke-width="0.50" fill="#1e1e1e" textLength="25.71" lengthAdjust="spacingAndGlyphs">40</text>
<line x1="92" y1="424.8" x2="99.7" y2="424.8" stroke="#585858" stroke-width="2"/>
<text x="60.21" y="432.27" font-size="22.22" stroke="#1e1e1e" stroke-width="0.50" fill="#1e1e1e" textLength="25.71" lengthAdjust="spacingAndGlyphs">60</text>
<line x1="92" y1="323.5" x2="99.7" y2="323.5" stroke="#585858" stroke-width="2"/>
<text x="60.21" y="330.99" font-size="22.22" stroke="#1e1e1e" stroke-width="0.50" fill="#1e1e1e" textLength="25.71" lengthAdjust="spacingAndGlyphs">80</text>
<line x1="92" y1="222.3" x2="99.7" y2="222.3" stroke="#585858" stroke-width="2"/>
<text x="45.73" y="229.71" font-size="22.22" stroke="#1e1e1e" stroke-width="0.50" fill="#1e1e1e" textLength="38.56" lengthAdjust="spacingAndGlyphs">100</text>
<line x1="92" y1="121.0" x2="99.7" y2="121.0" stroke="#585858" stroke-width="2"/>
<text x="45.73" y="128.43" font-size="22.22" stroke="#1e1e1e" stroke-width="0.50" fill="#1e1e1e" textLength="38.56" lengthAdjust="spacingAndGlyphs">120</text>
<line x1="92" y1="19.7" x2="99.7" y2="19.7" stroke="#585858" stroke-width="2"/>
<text x="45.73" y="27.15" font-size="22.22" stroke="#1e1e1e" stroke-width="0.50" fill="#1e1e1e" textLength="38.56" lengthAdjust="spacingAndGlyphs">140</text>
<line x1="262.0" y1="627.4" x2="262.0" y2="635" stroke="#585858" stroke-width="2"/>
<text x="207.30" y="656.65" font-size="21.08" stroke="#1e1e1e" stroke-width="0.50" fill="#1e1e1e" textLength="109.58" lengthAdjust="spacingAndGlyphs">12:16:40.0</text>
<line x1="473.8" y1="627.4" x2="473.8" y2="635" stroke="#585858" stroke-width="2"/>
<text x="419.10" y="656.65" font-size="21.08" stroke="#1e1e1e" stroke-width="0.50" fill="#1e1e1e" textLength="109.58" lengthAdjust="spacingAndGlyphs">12:18:20.0</text>
<line x1="683.7" y1="627.4" x2="683.7" y2="635" stroke="#585858" stroke-width="2"/>
<text x="635.43" y="656.65" font-size="21.08" stroke="#1e1e1e" stroke-width="0.50" fill="#1e1e1e" textLength="96.69" lengthAdjust="spacingAndGlyphs">12:20:0.0</text>
<line x1="894.9" y1="627.4" x2="894.9" y2="635" stroke="#585858" stroke-width="2"/>
<text x="840.20" y="656.65" font-size="21.08" stroke="#1e1e1e" stroke-width="0.50" fill="#1e1e1e" textLength="109.58" lengthAdjust="spacingAndGlyphs">12:21:40.0</text>
<line x1="1105.8" y1="627.4" x2="1105.8" y2="635" stroke="#585858" stroke-width="2"/>
<text x="1051.10" y="656.65" font-size="21.08" stroke="#1e1e1e" stroke-width="0.50" fill="#1e1e1e" textLength="109.58" lengthAdjust="spacingAndGlyphs">12:23:20.0</text>
<text x="558.55" y="692.70" font-size="32.83" fill="#111" textLength="209.65" lengthAdjust="spacingAndGlyphs">Time (h:m:s)</text>
<text transform="translate(29.80,416.29) rotate(-90)" x="0" y="0" font-size="33.41" fill="#111" textLength="185.78" lengthAdjust="spacingAndGlyphs">Azimuth (°)</text>
<text x="6.08" y="786.00" font-size="34.62" font-weight="bold" fill="#000" textLength="23.80" lengthAdjust="spacingAndGlyphs">B</text>
<path d="M367.1,773.5 L367.1,765 Q367.1,763.2 370.1,763.2 L581.4,763.2 Q584.4,763.2 584.4,765 L584.4,773.5" fill="none" stroke="#1e1e1e" stroke-width="3.6" stroke-linecap="round"/>
<path d="M596.8,773.5 L596.8,765 Q596.8,763.2 599.8,763.2 L811.5,763.2 Q814.5,763.2 814.5,765 L814.5,773.5" fill="none" stroke="#1e1e1e" stroke-width="3.6" stroke-linecap="round"/>
<path d="M826.5,773.5 L826.5,765 Q826.5,763.2 829.5,763.2 L1040.9,763.2 Q1043.9,763.2 1043.9,765 L1043.9,773.5" fill="none" stroke="#1e1e1e" stroke-width="3.6" stroke-linecap="round"/>
<text x="422.61" y="743.70" font-size="28.97" stroke="#1a1a1a" stroke-width="0.45" fill="#1a1a1a" textLength="103.37" lengthAdjust="spacingAndGlyphs">Period 1</text>
<text x="652.07" y="743.40" font-size="27.45" stroke="#1a1a1a" stroke-width="0.45" fill="#1a1a1a" textLength="105.41" lengthAdjust="spacingAndGlyphs">Period 2</text>
<text x="857.37" y="742.80" font-size="26.90" stroke="#1a1a1a" stroke-width="0.45" fill="#1a1a1a" textLength="105.19" lengthAdjust="spacingAndGlyphs">Period 3</text>
<g clip-path="url(#cb)">
<circle cx="239.2" cy="1186.8" r="6.1" fill="#ea45bc" stroke="#b8339b" stroke-width="1.8"/>
<circle cx="226.1" cy="1197.0" r="6.1" fill="#d5e28c" stroke="#b6c271" stroke-width="1.8"/>
<circle cx="239.5" cy="1205.4" r="6.1" fill="#f5aacf" stroke="#d39ab8" stroke-width="1.8"/>
<circle cx="295.6" cy="1229.2" r="6.1" fill="#ea45bc" stroke="#b8339b" stroke-width="1.8"/>
<circle cx="292.9" cy="1275.7" r="6.1" fill="#ea45bc" stroke="#b8339b" stroke-width="1.8"/>
<circle cx="271.3" cy="1296.6" r="6.1" fill="#f5aacf" stroke="#d39ab8" stroke-width="1.8"/>
<circle cx="293.9" cy="1298.3" r="6.1" fill="#ea45bc" stroke="#b8339b" stroke-width="1.8"/>
<circle cx="368.7" cy="1295.5" r="6.1" fill="#ea45bc" stroke="#b8339b" stroke-width="1.8"/>
<circle cx="465.3" cy="1000.1" r="6.1" fill="#f5aacf" stroke="#d39ab8" stroke-width="1.8"/>
<circle cx="454.0" cy="1046.0" r="6.1" fill="#ea45bc" stroke="#b8339b" stroke-width="1.8"/>
<circle cx="468.4" cy="1056.3" r="6.1" fill="#ea45bc" stroke="#b8339b" stroke-width="1.8"/>
<circle cx="487.0" cy="1041.9" r="6.1" fill="#ea45bc" stroke="#b8339b" stroke-width="1.8"/>
<circle cx="488.5" cy="1057.9" r="6.1" fill="#d5e28c" stroke="#b6c271" stroke-width="1.8"/>
<circle cx="469.4" cy="1073.4" r="6.1" fill="#ea45bc" stroke="#b8339b" stroke-width="1.8"/>
<circle cx="475.6" cy="1070.8" r="6.1" fill="#1bb9cd" stroke="#1590a5" stroke-width="1.8"/>
<circle cx="461.2" cy="1090.9" r="6.1" fill="#7b7b7b" stroke="#575757" stroke-width="1.8"/>
<circle cx="461.2" cy="1085.7" r="6.1" fill="#d5e28c" stroke="#b6c271" stroke-width="1.8"/>
<circle cx="513.3" cy="1062.5" r="6.1" fill="#c6c6c6" stroke="#a2a2a2" stroke-width="1.8"/>
<circle cx="515.0" cy="1035.0" r="6.1" fill="#f5aacf" stroke="#d39ab8" stroke-width="1.8"/>
<circle cx="511.2" cy="1023.3" r="6.1" fill="#ea45bc" stroke="#b8339b" stroke-width="1.8"/>
<circle cx="514.8" cy="1031.6" r="6.1" fill="#ea45bc" stroke="#b8339b" stroke-width="1.8"/>
<circle cx="524.1" cy="1026.4" r="6.1" fill="#1bb9cd" stroke="#1590a5" stroke-width="1.8"/>
<circle cx="527.2" cy="1011.0" r="6.1" fill="#ea45bc" stroke="#b8339b" stroke-width="1.8"/>
<circle cx="428.7" cy="1096.6" r="6.1" fill="#ea45bc" stroke="#b8339b" stroke-width="1.8"/>
<circle cx="410.1" cy="1106.4" r="6.1" fill="#f5aacf" stroke="#d39ab8" stroke-width="1.8"/>
<circle cx="445.5" cy="1104.0" r="6.1" fill="#ea45bc" stroke="#b8339b" stroke-width="1.8"/>
<circle cx="449.8" cy="1104.8" r="6.1" fill="#f5aacf" stroke="#d39ab8" stroke-width="1.8"/>
<circle cx="478.2" cy="1109.5" r="6.1" fill="#f5aacf" stroke="#d39ab8" stroke-width="1.8"/>
<circle cx="429.7" cy="1134.8" r="6.1" fill="#ea45bc" stroke="#b8339b" stroke-width="1.8"/>
<circle cx="490.1" cy="1131.1" r="6.1" fill="#ea45bc" stroke="#b8339b" stroke-width="1.8"/>
<circle cx="543.5" cy="1012.0" r="6.1" fill="#cc9b92" stroke="#a57d74" stroke-width="1.8"/>
<circle cx="549.5" cy="1013.0" r="6.1" fill="#f5aacf" stroke="#d39ab8" stroke-width="1.8"/>
<circle cx="546.9" cy="1036.2" r="6.1" fill="#c6c6c6" stroke="#a2a2a2" stroke-width="1.8"/>
<circle cx="569.0" cy="1040.0" r="6.1" fill="#f5aacf" stroke="#d39ab8" stroke-width="1.8"/>
<circle cx="566.0" cy="1035.7" r="6.1" fill="#ea45bc" stroke="#b8339b" stroke-width="1.8"/>
<circle cx="573.2" cy="1046.0" r="6.1" fill="#ea45bc" stroke="#b8339b" stroke-width="1.8"/>
<circle cx="583.6" cy="1001.1" r="6.1" fill="#ea45bc" stroke="#b8339b" stroke-width="1.8"/>
<circle cx="579.4" cy="1015.1" r="6.1" fill="#ea45bc" stroke="#b8339b" stroke-width="1.8"/>
<circle cx="590.8" cy="1023.3" r="6.1" fill="#f5aacf" stroke="#d39ab8" stroke-width="1.8"/>
<circle cx="593.4" cy="1009.4" r="6.1" fill="#7b7b7b" stroke="#575757" stroke-width="1.8"/>
<circle cx="589.2" cy="1036.2" r="6.1" fill="#ea45bc" stroke="#b8339b" stroke-width="1.8"/>
<circle cx="607.3" cy="1028.5" r="6.1" fill="#ea45bc" stroke="#b8339b" stroke-width="1.8"/>
<circle cx="607.3" cy="1040.9" r="6.1" fill="#ea45bc" stroke="#b8339b" stroke-width="1.8"/>
<circle cx="618.6" cy="996.0" r="6.1" fill="#ea45bc" stroke="#b8339b" stroke-width="1.8"/>
<circle cx="622.3" cy="1014.0" r="6.1" fill="#ea45bc" stroke="#b8339b" stroke-width="1.8"/>
<circle cx="531.5" cy="1081.6" r="6.1" fill="#d5e28c" stroke="#b6c271" stroke-width="1.8"/>
<circle cx="534.0" cy="1117.2" r="6.1" fill="#c6c6c6" stroke="#a2a2a2" stroke-width="1.8"/>
<circle cx="532.5" cy="1106.9" r="6.1" fill="#ea45bc" stroke="#b8339b" stroke-width="1.8"/>
<circle cx="536.3" cy="1296.6" r="6.1" fill="#ea45bc" stroke="#b8339b" stroke-width="1.8"/>
<circle cx="597.2" cy="1208.0" r="6.1" fill="#d5e28c" stroke="#b6c271" stroke-width="1.8"/>
<circle cx="640.4" cy="1245.6" r="6.1" fill="#d5e28c" stroke="#b6c271" stroke-width="1.8"/>
<circle cx="665.1" cy="1237.3" r="6.1" fill="#d5e28c" stroke="#b6c271" stroke-width="1.8"/>
<circle cx="725.3" cy="1242.8" r="6.1" fill="#d5e28c" stroke="#b6c271" stroke-width="1.8"/>
<circle cx="689.9" cy="1270.9" r="6.1" fill="#d5e28c" stroke="#b6c271" stroke-width="1.8"/>
<circle cx="626.6" cy="1297.9" r="6.1" fill="#d5e28c" stroke="#b6c271" stroke-width="1.8"/>
<circle cx="746.8" cy="1156.6" r="6.1" fill="#d5e28c" stroke="#b6c271" stroke-width="1.8"/>
<circle cx="885.7" cy="1029.0" r="6.1" fill="#ea45bc" stroke="#b8339b" stroke-width="1.8"/>
<circle cx="833.7" cy="1051.1" r="6.1" fill="#d5e28c" stroke="#b6c271" stroke-width="1.8"/>
<circle cx="851.8" cy="1060.7" r="6.1" fill="#ea45bc" stroke="#b8339b" stroke-width="1.8"/>
<circle cx="790.8" cy="1096.2" r="6.1" fill="#d5e28c" stroke="#b6c271" stroke-width="1.8"/>
<circle cx="804.9" cy="1114.3" r="6.1" fill="#ea45bc" stroke="#b8339b" stroke-width="1.8"/>
<circle cx="796.5" cy="1125.6" r="6.1" fill="#ea45bc" stroke="#b8339b" stroke-width="1.8"/>
<circle cx="772.7" cy="1167.4" r="6.1" fill="#ea45bc" stroke="#b8339b" stroke-width="1.8"/>
<circle cx="824.6" cy="907.7" r="6.1" fill="#ea45bc" stroke="#b8339b" stroke-width="1.8"/>
<circle cx="835.9" cy="913.9" r="6.1" fill="#ea45bc" stroke="#b8339b" stroke-width="1.8"/>
<circle cx="838.7" cy="936.5" r="6.1" fill="#ea45bc" stroke="#b8339b" stroke-width="1.8"/>
<circle cx="855.1" cy="928.6" r="6.1" fill="#ea45bc" stroke="#b8339b" stroke-width="1.8"/>
<circle cx="861.9" cy="924.6" r="6.1" fill="#cc9b92" stroke="#a57d74" stroke-width="1.8"/>
<circle cx="800.9" cy="942.7" r="6.1" fill="#ea45bc" stroke="#b8339b" stroke-width="1.8"/>
<circle cx="892.4" cy="912.7" r="6.1" fill="#ea45bc" stroke="#b8339b" stroke-width="1.8"/>
<circle cx="904.8" cy="912.7" r="6.1" fill="#cc9b92" stroke="#a57d74" stroke-width="1.8"/>
<circle cx="904.8" cy="919.5" r="6.1" fill="#cc9b92" stroke="#a57d74" stroke-width="1.8"/>
<circle cx="891.8" cy="925.7" r="6.1" fill="#cc9b92" stroke="#a57d74" stroke-width="1.8"/>
<circle cx="896.9" cy="926.3" r="6.1" fill="#cc9b92" stroke="#a57d74" stroke-width="1.8"/>
<circle cx="908.7" cy="942.7" r="6.1" fill="#ea45bc" stroke="#b8339b" stroke-width="1.8"/>
<circle cx="916.1" cy="963.6" r="6.1" fill="#d5e28c" stroke="#b6c271" stroke-width="1.8"/>
<circle cx="932.4" cy="961.9" r="6.1" fill="#d5e28c" stroke="#b6c271" stroke-width="1.8"/>
<circle cx="859.0" cy="1007.6" r="6.1" fill="#d5e28c" stroke="#b6c271" stroke-width="1.8"/>
<circle cx="873.7" cy="1003.1" r="6.1" fill="#d5e28c" stroke="#b6c271" stroke-width="1.8"/>
<circle cx="868.1" cy="1014.4" r="6.1" fill="#cc9b92" stroke="#a57d74" stroke-width="1.8"/>
<circle cx="895.2" cy="995.2" r="6.1" fill="#d5e28c" stroke="#b6c271" stroke-width="1.8"/>
<circle cx="899.7" cy="1001.4" r="6.1" fill="#cc9b92" stroke="#a57d74" stroke-width="1.8"/>
<circle cx="940.8" cy="908.7" r="6.1" fill="#cc9b92" stroke="#a57d74" stroke-width="1.8"/>
<circle cx="943.7" cy="925.9" r="6.1" fill="#cc9b92" stroke="#a57d74" stroke-width="1.8"/>
<circle cx="957.5" cy="913.6" r="6.1" fill="#cc9b92" stroke="#a57d74" stroke-width="1.8"/>
<circle cx="966.4" cy="919.5" r="6.1" fill="#cc9b92" stroke="#a57d74" stroke-width="1.8"/>
<circle cx="953.6" cy="942.7" r="6.1" fill="#d5e28c" stroke="#b6c271" stroke-width="1.8"/>
<circle cx="964.0" cy="937.8" r="6.1" fill="#cc9b92" stroke="#a57d74" stroke-width="1.8"/>
<circle cx="945.2" cy="980.3" r="6.1" fill="#cc9b92" stroke="#a57d74" stroke-width="1.8"/>
<circle cx="979.3" cy="904.7" r="6.1" fill="#cc9b92" stroke="#a57d74" stroke-width="1.8"/>
<circle cx="988.2" cy="906.2" r="6.1" fill="#1bb9cd" stroke="#1590a5" stroke-width="1.8"/>
<circle cx="1000.0" cy="896.3" r="6.1" fill="#cc9b92" stroke="#a57d74" stroke-width="1.8"/>
<circle cx="996.1" cy="912.6" r="6.1" fill="#ea45bc" stroke="#b8339b" stroke-width="1.8"/>
<circle cx="1004.0" cy="912.6" r="6.1" fill="#ea45bc" stroke="#b8339b" stroke-width="1.8"/>
<circle cx="1017.8" cy="919.0" r="6.1" fill="#f5aacf" stroke="#d39ab8" stroke-width="1.8"/>
<circle cx="1148.2" cy="907.6" r="6.1" fill="#cc9b92" stroke="#a57d74" stroke-width="1.8"/>
<circle cx="372.9" cy="802.9" r="6.1" fill="#d5e28c" stroke="#b6c271" stroke-width="1.8"/>
</g>
<rect x="108.6" y="800.2" width="1113.3" height="659" fill="none" stroke="#585858" stroke-width="2.9" stroke-linejoin="round"/>
<line x1="100.6" y1="1454.5" x2="108.6" y2="1454.5" stroke="#585858" stroke-width="2.2"/>
<text x="66.74" y="1462.82" font-size="23.23" stroke="#262626" stroke-width="0.35" fill="#262626" textLength="26.61" lengthAdjust="spacingAndGlyphs">20</text>
<line x1="100.6" y1="1352.0" x2="108.6" y2="1352.0" stroke="#585858" stroke-width="2.2"/>
<text x="66.74" y="1360.30" font-size="23.23" stroke="#262626" stroke-width="0.35" fill="#262626" textLength="26.61" lengthAdjust="spacingAndGlyphs">40</text>
<line x1="100.6" y1="1249.5" x2="108.6" y2="1249.5" stroke="#585858" stroke-width="2.2"/>
<text x="66.74" y="1257.78" font-size="23.23" stroke="#262626" stroke-width="0.35" fill="#262626" textLength="26.61" lengthAdjust="spacingAndGlyphs">60</text>
<line x1="100.6" y1="1147.0" x2="108.6" y2="1147.0" stroke="#585858" stroke-width="2.2"/>
<text x="66.74" y="1155.26" font-size="23.23" stroke="#262626" stroke-width="0.35" fill="#262626" textLength="26.61" lengthAdjust="spacingAndGlyphs">80</text>
<line x1="100.6" y1="1044.4" x2="108.6" y2="1044.4" stroke="#585858" stroke-width="2.2"/>
<text x="51.31" y="1052.74" font-size="23.23" stroke="#262626" stroke-width="0.35" fill="#262626" textLength="39.92" lengthAdjust="spacingAndGlyphs">100</text>
<line x1="100.6" y1="941.9" x2="108.6" y2="941.9" stroke="#585858" stroke-width="2.2"/>
<text x="51.31" y="950.22" font-size="23.23" stroke="#262626" stroke-width="0.35" fill="#262626" textLength="39.92" lengthAdjust="spacingAndGlyphs">120</text>
<line x1="100.6" y1="839.4" x2="108.6" y2="839.4" stroke="#585858" stroke-width="2.2"/>
<text x="51.31" y="847.70" font-size="23.23" stroke="#262626" stroke-width="0.35" fill="#262626" textLength="39.92" lengthAdjust="spacingAndGlyphs">140</text>
<line x1="109.7" y1="1459.2" x2="109.7" y2="1466.5" stroke="#585858" stroke-width="2.2"/>
<text x="103.40" y="1491.20" font-size="22.65" stroke="#262626" stroke-width="0.35" fill="#262626" textLength="12.98" lengthAdjust="spacingAndGlyphs">0</text>
<line x1="353.6" y1="1459.2" x2="353.6" y2="1466.5" stroke="#585858" stroke-width="2.2"/>
<text x="333.91" y="1491.20" font-size="22.65" stroke="#262626" stroke-width="0.35" fill="#262626" textLength="38.93" lengthAdjust="spacingAndGlyphs">100</text>
<line x1="597.0" y1="1459.2" x2="597.0" y2="1466.5" stroke="#585858" stroke-width="2.2"/>
<text x="577.60" y="1491.20" font-size="22.65" stroke="#262626" stroke-width="0.35" fill="#262626" textLength="38.93" lengthAdjust="spacingAndGlyphs">200</text>
<line x1="841.8" y1="1459.2" x2="841.8" y2="1466.5" stroke="#585858" stroke-width="2.2"/>
<text x="822.55" y="1491.20" font-size="22.65" stroke="#262626" stroke-width="0.35" fill="#262626" textLength="38.93" lengthAdjust="spacingAndGlyphs">300</text>
<line x1="1087.3" y1="1459.2" x2="1087.3" y2="1466.5" stroke="#585858" stroke-width="2.2"/>
<text x="1068.22" y="1491.20" font-size="22.65" stroke="#262626" stroke-width="0.35" fill="#262626" textLength="38.93" lengthAdjust="spacingAndGlyphs">400</text>
<text x="500.61" y="1530.10" font-size="37.85" fill="#111" textLength="269.89" lengthAdjust="spacingAndGlyphs">Time (seconds)</text>
<text transform="translate(38.80,1193.60) rotate(-90)" x="0" y="0" font-size="36.99" fill="#111" textLength="198.35" lengthAdjust="spacingAndGlyphs">Azimuth (°)</text>
<rect x="1246.6" y="956.2" width="50.2" height="51.4" fill="#19bccf"/>
<rect x="1246.6" y="1007.2" width="50.2" height="57.3" fill="#d5e28a"/>
<rect x="1246.6" y="1064.1" width="50.2" height="52.1" fill="#c6c6c6"/>
<rect x="1246.6" y="1115.8" width="50.2" height="53.2" fill="#7d7d7d"/>
<rect x="1246.6" y="1168.6" width="50.2" height="57.2" fill="#f8a8d0"/>
<rect x="1246.6" y="1225.4" width="50.2" height="51.9" fill="#f23dbf"/>
<rect x="1246.6" y="1276.9" width="50.2" height="57.5" fill="#c7978d"/>
<rect x="1246.6" y="956.2" width="50.2" height="377.8" rx="3.5" fill="none" stroke="#3a3a3a" stroke-width="3.4"/>
<line x1="1296.8" y1="980.9" x2="1308.5" y2="980.9" stroke="#2e2e2e" stroke-width="2.4"/>
<text x="1321.24" y="992.35" font-size="33.69" stroke="#262626" stroke-width="0.70" fill="#262626" textLength="16.12" lengthAdjust="spacingAndGlyphs">?</text>
<line x1="1296.8" y1="1035.5" x2="1308.5" y2="1035.5" stroke="#2e2e2e" stroke-width="2.4"/>
<text x="1319.34" y="1046.95" font-size="33.69" stroke="#262626" stroke-width="0.70" fill="#262626" textLength="67.99" lengthAdjust="spacingAndGlyphs">N48</text>
<line x1="1296.8" y1="1089.8" x2="1308.5" y2="1089.8" stroke="#2e2e2e" stroke-width="2.4"/>
<text x="1319.34" y="1101.25" font-size="33.69" stroke="#262626" stroke-width="0.70" fill="#262626" textLength="67.99" lengthAdjust="spacingAndGlyphs">N45</text>
<line x1="1296.8" y1="1144.1" x2="1308.5" y2="1144.1" stroke="#2e2e2e" stroke-width="2.4"/>
<text x="1319.34" y="1155.55" font-size="33.69" stroke="#262626" stroke-width="0.70" fill="#262626" textLength="67.99" lengthAdjust="spacingAndGlyphs">N39</text>
<line x1="1296.8" y1="1196.6" x2="1308.5" y2="1196.6" stroke="#2e2e2e" stroke-width="2.4"/>
<text x="1319.34" y="1208.05" font-size="33.69" stroke="#262626" stroke-width="0.70" fill="#262626" textLength="67.99" lengthAdjust="spacingAndGlyphs">N30</text>
<line x1="1296.8" y1="1251.9" x2="1308.5" y2="1251.9" stroke="#2e2e2e" stroke-width="2.4"/>
<text x="1319.34" y="1263.35" font-size="33.69" stroke="#262626" stroke-width="0.70" fill="#262626" textLength="67.99" lengthAdjust="spacingAndGlyphs">N25</text>
<line x1="1296.8" y1="1305.8" x2="1308.5" y2="1305.8" stroke="#2e2e2e" stroke-width="2.4"/>
<text x="1319.34" y="1317.25" font-size="33.69" stroke="#262626" stroke-width="0.70" fill="#262626" textLength="76.22" lengthAdjust="spacingAndGlyphs">N23i</text>
</svg></body></html>
